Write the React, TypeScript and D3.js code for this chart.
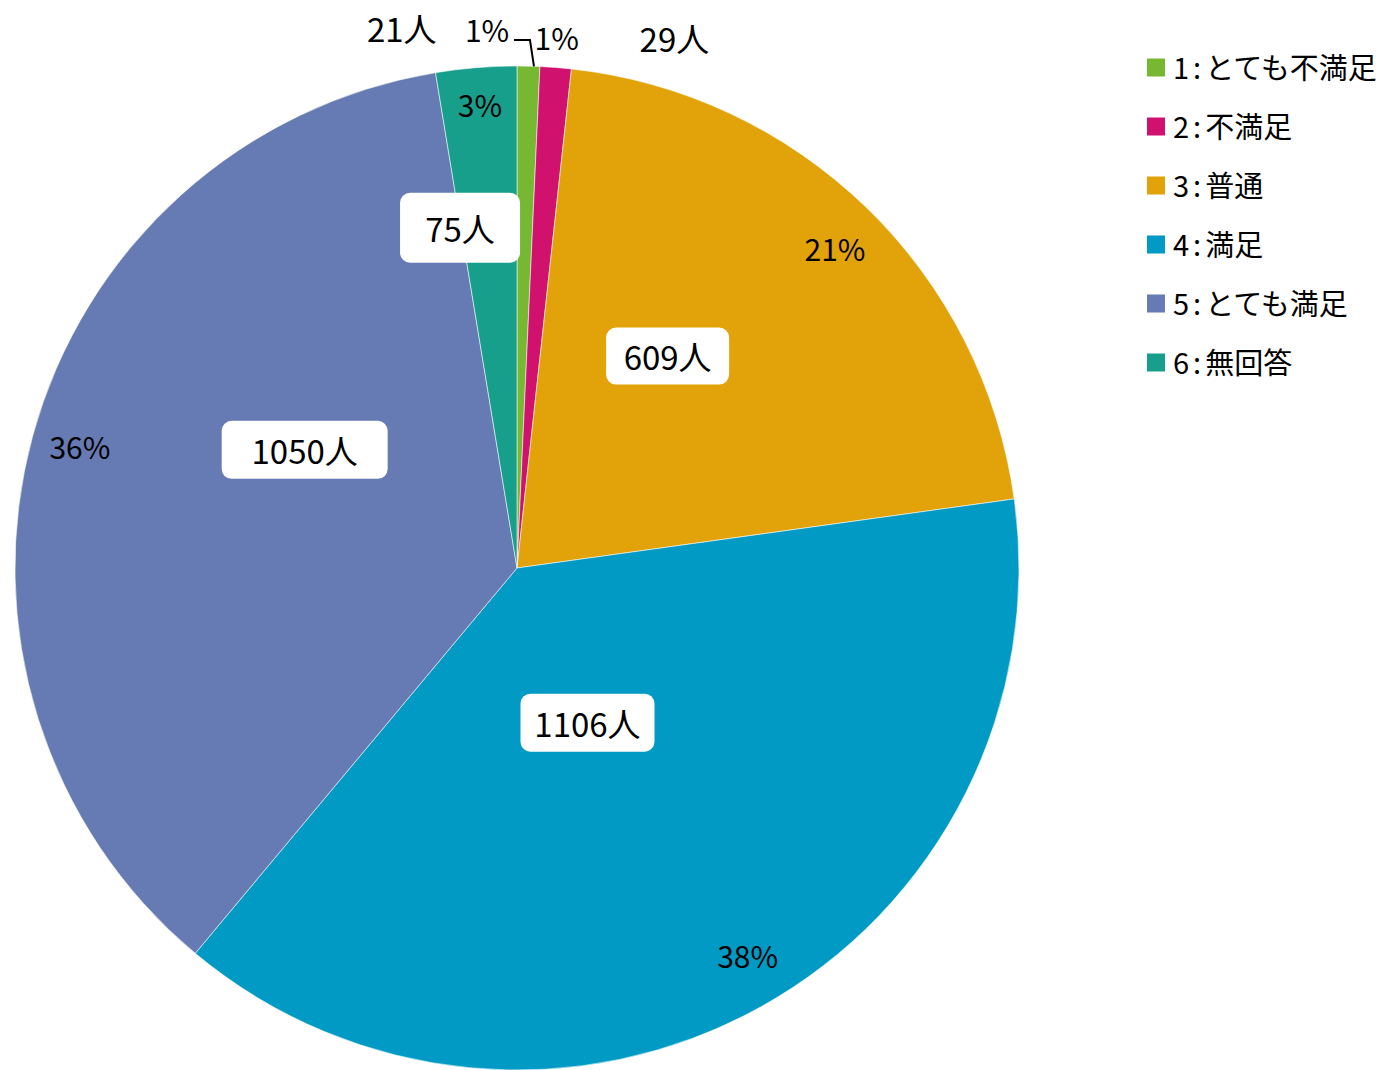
import React from 'react';
import * as d3 from 'd3';

// survey answers, clockwise from 12 o'clock
const categories = ['1:とても不満足', '2:不満足', '3:普通', '4:満足', '5:とても満足', '6:無回答'];
const counts = [21, 29, 609, 1106, 1050, 75];
const percentLabels = ['1%', '1%', '21%', '38%', '36%', '3%'];
const colors = ['#76B831', '#D0116D', '#E1A309', '#009AC5', '#667AB3', '#179F8B'];

// label placement: [angle in degrees clockwise from top, distance from centre]
const pctPos = [[356.8, 537], [4.3, 530], [45.1, 449], [149.4, 453], [285.2, 453], [355.4, 463]];
const countPos = [[347.9, 550], [16.6, 551], [35.4, 260], [155.5, 170], [299.1, 243], [350.5, 345]];
// white label boxes (null = plain text outside the pie)
const boxSize = [null, null, [123, 57], [134, 58], [166, 58], [120, 70]];

const W = 1384;
const H = 1070;
const cx = 517;
const cy = 568;
const R = 502;
const FONT = '"Noto Sans CJK JP", "Noto Sans", sans-serif';

const polar = ([deg, r]: number[]) => {
  const a = (deg * Math.PI) / 180;
  return [Math.sin(a) * r, -Math.cos(a) * r];
};

const App = () => {
  const pie = d3.pie<number>().value(d => d).sort(null);
  const arcs = pie(counts);
  const arc = d3.arc<d3.PieArcDatum<number>>().innerRadius(0).outerRadius(R);

  // leader line for the tiny green slice
  const green = arcs[0];
  const gAngle = (green.startAngle + green.endAngle) / 2 + 0.011;
  const leader = d3.line()([
    [Math.sin(gAngle) * R, -Math.cos(gAngle) * R],
    [Math.sin(gAngle) * R - 4, -528],
    [-3, -528],
  ]);

  const legendY = d3.scaleBand<string>().domain(categories).range([38, 392]);

  return (
    <div style={{ position: 'absolute', left: 0, top: 0 }}>
      <svg width={W} height={H} style={{ display: 'block', background: '#fff' }}>
        <g transform={`translate(${cx},${cy})`}>
          {arcs.map((d, i) => (
            <path key={i} d={arc(d) || ''} fill={colors[i]} stroke="#fff" strokeOpacity={0.55} strokeWidth={1} />
          ))}
          <path d={leader || ''} fill="none" stroke="#000" strokeWidth={2} />
          {arcs.map((d, i) => {
            const [x, y] = polar(pctPos[i]);
            return (
              <text key={'p' + i} x={x} y={y - 3} textAnchor="middle" dominantBaseline="central"
                fontFamily={FONT} fontSize={30} fill="#000">
                {percentLabels[i]}
              </text>
            );
          })}
          {arcs.map((d, i) => {
            const [x, y] = polar(countPos[i]);
            const box = boxSize[i];
            return (
              <g key={'c' + i} transform={`translate(${x},${y})`}>
                {box && (
                  <rect x={-box[0] / 2} y={-box[1] / 2} width={box[0]} height={box[1]} rx={10} fill="#fff" />
                )}
                <text y={box ? 0 : -2} textAnchor="middle" dominantBaseline="central" fontFamily={FONT} fontSize={33} fill="#000">
                  {counts[i]}人
                </text>
              </g>
            );
          })}
        </g>
        <g transform="translate(1147,0)">
          {categories.map((c, i) => {
            const y = (legendY(c) || 0) + legendY.bandwidth() / 2;
            const [num, rest] = c.split(':');
            return (
              <g key={c} transform={`translate(0,${y})`}>
                <rect x={0} y={-9} width={18} height={18} fill={colors[i]} />
                <text x={26} y={-2} dominantBaseline="central" fontFamily={FONT} fontSize={29} fill="#000">
                  {num}
                  <tspan dx={4}>:</tspan>
                  <tspan dx={4}>{rest}</tspan>
                </text>
              </g>
            );
          })}
        </g>
      </svg>
    </div>
  );
};

export default App;
